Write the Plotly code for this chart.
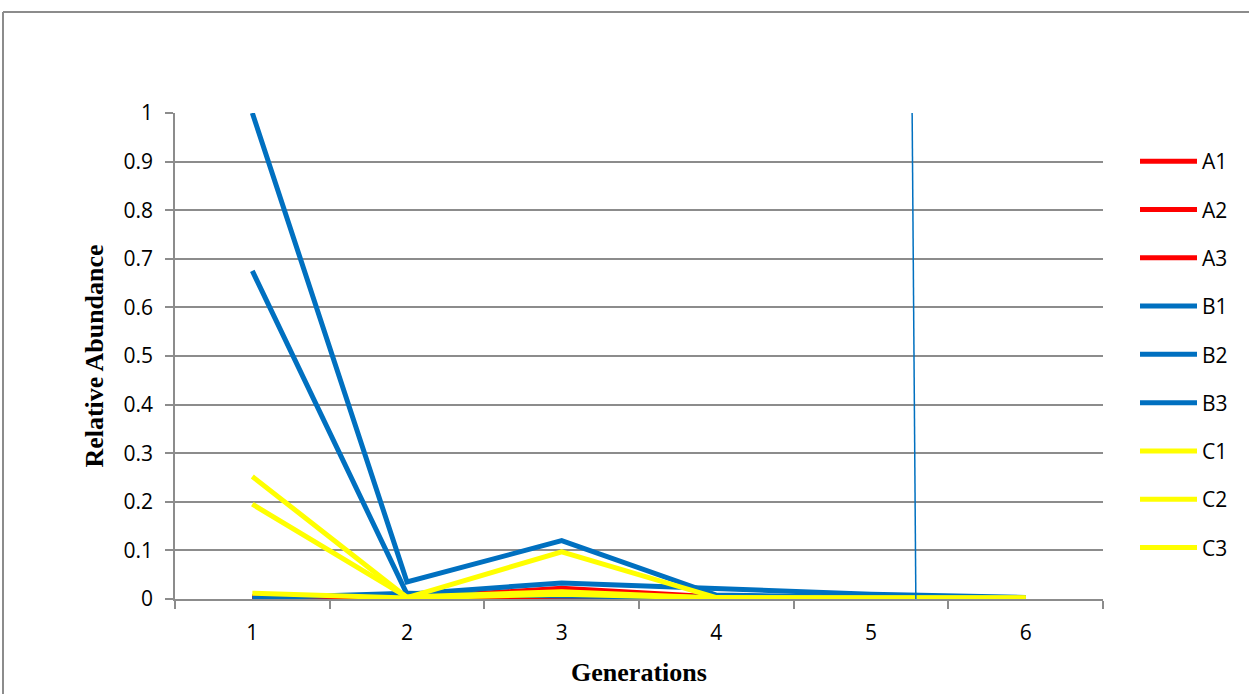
import plotly.graph_objects as go

# Relative abundance of each line over six generations
generations = [1, 2, 3, 4, 5, 6]

series_names = ["A1", "A2", "A3", "B1", "B2", "B3", "C1", "C2", "C3"]

a1 = [0.005, 0.002, 0.022, 0.004, 0.001, 0.0005]
a2 = [0.003, 0.001, 0.002, 0.001, 0.0005, 0.0003]
a3 = [0.002, 0.001, 0.001, 0.0005, 0.0003, 0.0002]
b1 = [1.0, 0.035, 0.12, 0.008, 0.003, 0.001]
b2 = [0.675, 0.01, 0.033, 0.022, 0.01, 0.003]
b3 = [0.002, 0.012, 0.006, 0.003, 0.001, 0.0005]
c1 = [0.252, 0.003, 0.097, 0.003, 0.002, 0.002]
c2 = [0.195, 0.004, 0.015, 0.002, 0.002, 0.002]
c3 = [0.012, 0.002, 0.01, 0.002, 0.002, 0.002]

# Thin marker line drawn across the plot near generation 5
marker_x = [5.266, 5.29]
marker_y = [1.0, 0.0]

y_ticks = [0, 0.1, 0.2, 0.3, 0.4, 0.5, 0.6, 0.7, 0.8, 0.9, 1]
y_tick_text = ["0", "0.1", "0.2", "0.3", "0.4", "0.5", "0.6", "0.7", "0.8", "0.9", "1"]

RED = "#FF0000"
BLUE = "#0070C0"
YELLOW = "#FFFF00"
GRID = "#8C8C8C"

values = [a1, a2, a3, b1, b2, b3, c1, c2, c3]
colors = [RED, RED, RED, BLUE, BLUE, BLUE, YELLOW, YELLOW, YELLOW]

fig = go.Figure()

for name, vals, col in zip(series_names, values, colors):
    fig.add_trace(go.Scatter(
        x=generations, y=vals, name=name, mode="lines",
        line=dict(color=col, width=5),
        legendgroup=name,
    ))

fig.add_trace(go.Scatter(
    x=marker_x, y=marker_y, mode="lines",
    line=dict(color=BLUE, width=1.5),
    showlegend=False, hoverinfo="skip",
))

tick_font = dict(family="Open Sans, Noto Sans, sans-serif", size=21, color="#000000")
title_font = dict(family="Liberation Serif, Times New Roman, serif", size=26, color="#000000")

# chart-area frame (top and left edges fall inside the page)
frame_left = (3 - 175) / 928
frame_top = (599 - 12) / 486

fig.update_layout(
    width=1249, height=694,
    margin=dict(l=175, r=146, t=113, b=95),
    paper_bgcolor="white", plot_bgcolor="white",
    showlegend=True,
    legend=dict(
        x=1.0 + 32 / 928, xanchor="left", y=1.0 - 28 / 486, yanchor="top",
        font=dict(family="Open Sans, Noto Sans, sans-serif", size=21, color="#000000"),
        tracegroupgap=18, itemwidth=57,
        bgcolor="rgba(0,0,0,0)",
    ),
    xaxis=dict(
        range=[0.5, 6.5],
        tickvals=generations, ticktext=[str(g) for g in generations],
        ticks="", showgrid=False, zeroline=False,
        showline=True, linecolor=GRID, linewidth=1.5,
        tickfont=tick_font, ticklabelstandoff=14,
        minor=dict(ticks="outside", tick0=0.5, dtick=1, ticklen=8,
                   tickcolor=GRID, tickwidth=1.5, showgrid=False),
        title=dict(text="<b>Generations</b>", font=title_font, standoff=18),
    ),
    yaxis=dict(
        range=[0, 1],
        tickvals=y_ticks, ticktext=y_tick_text,
        ticks="outside", ticklen=8, tickcolor=GRID, tickwidth=1.5,
        showgrid=True, gridcolor=GRID, gridwidth=1.5,
        zeroline=False, showline=True, linecolor=GRID, linewidth=1.5,
        tickfont=tick_font, ticklabelstandoff=8,
        title=dict(text="<b>Relative Abundance</b>", font=title_font, standoff=12),
    ),
    shapes=[
        dict(type="line", xref="paper", yref="paper",
             x0=frame_left, x1=1.4, y0=frame_top, y1=frame_top,
             line=dict(color=GRID, width=2), layer="below"),
        dict(type="line", xref="paper", yref="paper",
             x0=frame_left, x1=frame_left, y0=frame_top, y1=-0.4,
             line=dict(color=GRID, width=2), layer="below"),
    ],
)

fig.write_html("out.html")
